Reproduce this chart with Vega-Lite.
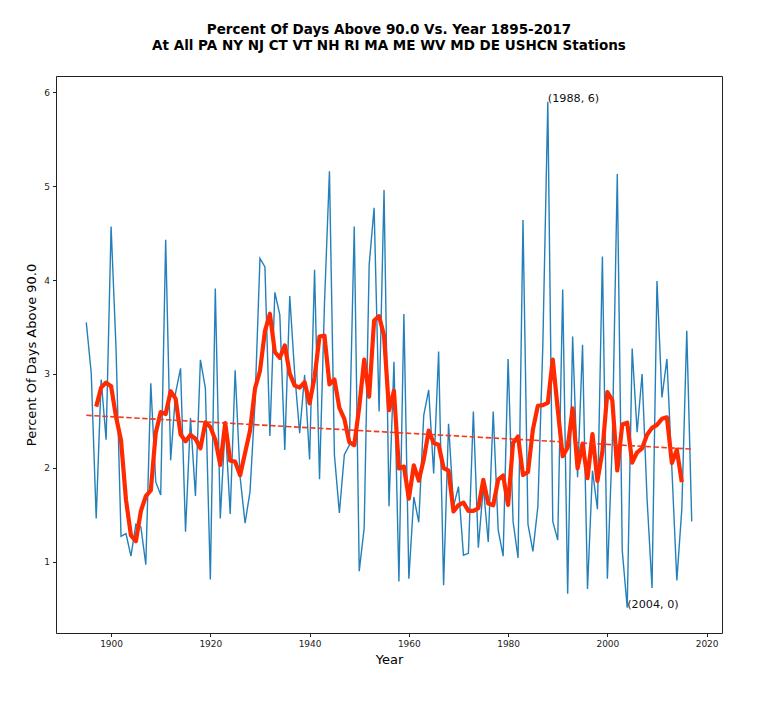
{
  "$schema": "https://vega.github.io/schema/vega-lite/v6.json",
  "width": 666,
  "height": 557,
  "autosize": {"type": "none"},
  "padding": {"left": 56, "top": 76, "right": 46, "bottom": 81},
  "background": "white",
  "title": {
    "text": [
      "Percent Of Days Above 90.0 Vs. Year 1895-2017",
      "At All PA NY NJ CT VT NH RI MA ME WV MD DE USHCN Stations"
    ],
    "font": "DejaVu Sans",
    "fontSize": 13.5,
    "fontWeight": "bold",
    "color": "black",
    "anchor": "middle",
    "lineHeight": 15.5,
    "offset": 24
  },
  "datasets": {
    "yearly": [
      {"year": 1895, "pct": 3.55},
      {"year": 1896, "pct": 3.01},
      {"year": 1897, "pct": 1.46, "avg": 2.652},
      {"year": 1898, "pct": 2.94, "avg": 2.856},
      {"year": 1899, "pct": 2.30, "avg": 2.908},
      {"year": 1900, "pct": 4.57, "avg": 2.870},
      {"year": 1901, "pct": 3.27, "avg": 2.542},
      {"year": 1902, "pct": 1.27, "avg": 2.294},
      {"year": 1903, "pct": 1.30, "avg": 1.660},
      {"year": 1904, "pct": 1.06, "avg": 1.280},
      {"year": 1905, "pct": 1.40, "avg": 1.220},
      {"year": 1906, "pct": 1.37, "avg": 1.540},
      {"year": 1907, "pct": 0.97, "avg": 1.698},
      {"year": 1908, "pct": 2.90, "avg": 1.760},
      {"year": 1909, "pct": 1.85, "avg": 2.372},
      {"year": 1910, "pct": 1.71, "avg": 2.594},
      {"year": 1911, "pct": 4.43, "avg": 2.574},
      {"year": 1912, "pct": 2.08, "avg": 2.816},
      {"year": 1913, "pct": 2.80, "avg": 2.738},
      {"year": 1914, "pct": 3.06, "avg": 2.358},
      {"year": 1915, "pct": 1.32, "avg": 2.282},
      {"year": 1916, "pct": 2.53, "avg": 2.352},
      {"year": 1917, "pct": 1.70, "avg": 2.310},
      {"year": 1918, "pct": 3.15, "avg": 2.208},
      {"year": 1919, "pct": 2.85, "avg": 2.484},
      {"year": 1920, "pct": 0.81, "avg": 2.436},
      {"year": 1921, "pct": 3.91, "avg": 2.300},
      {"year": 1922, "pct": 1.46, "avg": 2.032},
      {"year": 1923, "pct": 2.47, "avg": 2.478},
      {"year": 1924, "pct": 1.51, "avg": 2.076},
      {"year": 1925, "pct": 3.04, "avg": 2.066},
      {"year": 1926, "pct": 1.90, "avg": 1.922},
      {"year": 1927, "pct": 1.41, "avg": 2.160},
      {"year": 1928, "pct": 1.75, "avg": 2.398},
      {"year": 1929, "pct": 2.70, "avg": 2.846},
      {"year": 1930, "pct": 4.23, "avg": 3.032},
      {"year": 1931, "pct": 4.14, "avg": 3.456},
      {"year": 1932, "pct": 2.34, "avg": 3.642},
      {"year": 1933, "pct": 3.87, "avg": 3.234},
      {"year": 1934, "pct": 3.63, "avg": 3.172},
      {"year": 1935, "pct": 2.19, "avg": 3.304},
      {"year": 1936, "pct": 3.83, "avg": 3.004},
      {"year": 1937, "pct": 3.00, "avg": 2.876},
      {"year": 1938, "pct": 2.37, "avg": 2.856},
      {"year": 1939, "pct": 2.99, "avg": 2.912},
      {"year": 1940, "pct": 2.09, "avg": 2.688},
      {"year": 1941, "pct": 4.11, "avg": 2.964},
      {"year": 1942, "pct": 1.88, "avg": 3.398},
      {"year": 1943, "pct": 3.75, "avg": 3.408},
      {"year": 1944, "pct": 5.16, "avg": 2.890},
      {"year": 1945, "pct": 2.14, "avg": 2.942},
      {"year": 1946, "pct": 1.52, "avg": 2.640},
      {"year": 1947, "pct": 2.14, "avg": 2.522},
      {"year": 1948, "pct": 2.24, "avg": 2.274},
      {"year": 1949, "pct": 4.57, "avg": 2.242},
      {"year": 1950, "pct": 0.90, "avg": 2.646},
      {"year": 1951, "pct": 1.36, "avg": 3.152},
      {"year": 1952, "pct": 4.16, "avg": 2.758},
      {"year": 1953, "pct": 4.77, "avg": 3.570},
      {"year": 1954, "pct": 2.60, "avg": 3.616},
      {"year": 1955, "pct": 4.96, "avg": 3.410},
      {"year": 1956, "pct": 1.59, "avg": 2.614},
      {"year": 1957, "pct": 3.13, "avg": 2.822},
      {"year": 1958, "pct": 0.79, "avg": 1.994},
      {"year": 1959, "pct": 3.64, "avg": 2.014},
      {"year": 1960, "pct": 0.82, "avg": 1.672},
      {"year": 1961, "pct": 1.69, "avg": 2.026},
      {"year": 1962, "pct": 1.42, "avg": 1.864},
      {"year": 1963, "pct": 2.56, "avg": 2.088},
      {"year": 1964, "pct": 2.83, "avg": 2.398},
      {"year": 1965, "pct": 1.94, "avg": 2.264},
      {"year": 1966, "pct": 3.24, "avg": 2.246},
      {"year": 1967, "pct": 0.75, "avg": 1.998},
      {"year": 1968, "pct": 2.47, "avg": 1.970},
      {"year": 1969, "pct": 1.59, "avg": 1.536},
      {"year": 1970, "pct": 1.80, "avg": 1.604},
      {"year": 1971, "pct": 1.07, "avg": 1.630},
      {"year": 1972, "pct": 1.09, "avg": 1.542},
      {"year": 1973, "pct": 2.60, "avg": 1.542},
      {"year": 1974, "pct": 1.15, "avg": 1.570},
      {"year": 1975, "pct": 1.80, "avg": 1.872},
      {"year": 1976, "pct": 1.21, "avg": 1.620},
      {"year": 1977, "pct": 2.60, "avg": 1.602},
      {"year": 1978, "pct": 1.34, "avg": 1.874},
      {"year": 1979, "pct": 1.06, "avg": 1.918},
      {"year": 1980, "pct": 3.16, "avg": 1.606},
      {"year": 1981, "pct": 1.43, "avg": 2.266},
      {"year": 1982, "pct": 1.04, "avg": 2.334},
      {"year": 1983, "pct": 4.64, "avg": 1.924},
      {"year": 1984, "pct": 1.40, "avg": 1.956},
      {"year": 1985, "pct": 1.11, "avg": 2.410},
      {"year": 1986, "pct": 1.59, "avg": 2.662},
      {"year": 1987, "pct": 3.31, "avg": 2.668},
      {"year": 1988, "pct": 5.90, "avg": 2.692},
      {"year": 1989, "pct": 1.43, "avg": 3.154},
      {"year": 1990, "pct": 1.23, "avg": 2.624},
      {"year": 1991, "pct": 3.90, "avg": 2.124},
      {"year": 1992, "pct": 0.66, "avg": 2.218},
      {"year": 1993, "pct": 3.40, "avg": 2.634},
      {"year": 1994, "pct": 1.90, "avg": 1.996},
      {"year": 1995, "pct": 3.31, "avg": 2.258},
      {"year": 1996, "pct": 0.71, "avg": 1.890},
      {"year": 1997, "pct": 1.97, "avg": 2.360},
      {"year": 1998, "pct": 1.56, "avg": 1.862},
      {"year": 1999, "pct": 4.25, "avg": 2.176},
      {"year": 2000, "pct": 0.82, "avg": 2.808},
      {"year": 2001, "pct": 2.28, "avg": 2.720},
      {"year": 2002, "pct": 5.13, "avg": 1.972},
      {"year": 2003, "pct": 1.12, "avg": 2.462},
      {"year": 2004, "pct": 0.51, "avg": 2.482},
      {"year": 2005, "pct": 3.27, "avg": 2.056},
      {"year": 2006, "pct": 2.38, "avg": 2.166},
      {"year": 2007, "pct": 3.00, "avg": 2.208},
      {"year": 2008, "pct": 1.67, "avg": 2.352},
      {"year": 2009, "pct": 0.72, "avg": 2.426},
      {"year": 2010, "pct": 3.99, "avg": 2.458},
      {"year": 2011, "pct": 2.75, "avg": 2.522},
      {"year": 2012, "pct": 3.16, "avg": 2.538},
      {"year": 2013, "pct": 1.99, "avg": 2.052},
      {"year": 2014, "pct": 0.80, "avg": 2.194},
      {"year": 2015, "pct": 1.56, "avg": 1.848},
      {"year": 2016, "pct": 3.46},
      {"year": 2017, "pct": 1.43}
    ],
    "trend": [
      {"year": 1895, "pct": 2.56},
      {"year": 2017, "pct": 2.20}
    ],
    "notes": [
      {"year": 1988, "pct": 5.90, "label": "(1988, 6)"},
      {"year": 2004, "pct": 0.51, "label": "(2004, 0)"}
    ]
  },
  "encoding": {
    "x": {
      "field": "year",
      "type": "quantitative",
      "scale": {"domain": [1888.9, 2023.1], "nice": false, "zero": false},
      "axis": {
        "values": [1900, 1920, 1940, 1960, 1980, 2000, 2020],
        "format": "d",
        "title": "Year",
        "titleFontSize": 13,
        "titlePadding": 5
      }
    },
    "y": {
      "field": "pct",
      "type": "quantitative",
      "scale": {"domain": [0.241, 6.174], "nice": false, "zero": false},
      "axis": {
        "values": [1, 2, 3, 4, 5, 6],
        "format": "d",
        "title": "Percent Of Days Above 90.0",
        "titleFontSize": 13,
        "titlePadding": 5
      }
    }
  },
  "layer": [
    {
      "data": {"name": "yearly"},
      "mark": {"type": "line", "color": "#2580b9", "strokeWidth": 1.4, "clip": true}
    },
    {
      "data": {"name": "yearly"},
      "mark": {"type": "line", "color": "#ff2a00", "strokeWidth": 4.2, "strokeJoin": "round", "clip": true},
      "encoding": {"y": {"field": "avg", "type": "quantitative"}}
    },
    {
      "data": {"name": "trend"},
      "mark": {"type": "line", "color": "#f03a1c", "strokeWidth": 1.6, "strokeDash": [5.5, 2.5], "clip": true}
    },
    {
      "data": {"name": "notes"},
      "mark": {
        "type": "text",
        "align": "left",
        "baseline": "alphabetic",
        "font": "DejaVu Sans",
        "fontSize": 11.2,
        "color": "#111"
      },
      "encoding": {"text": {"field": "label"}}
    }
  ],
  "config": {
    "font": "DejaVu Sans",
    "view": {"stroke": "#222", "strokeWidth": 1},
    "axis": {
      "domain": false,
      "grid": false,
      "ticks": true,
      "tickSize": 3.5,
      "tickColor": "#222",
      "tickWidth": 1,
      "labelFont": "DejaVu Sans",
      "labelFontSize": 9,
      "labelColor": "#222",
      "labelPadding": 3,
      "titleFont": "DejaVu Sans",
      "titleFontWeight": "normal",
      "titleColor": "black"
    }
  }
}
